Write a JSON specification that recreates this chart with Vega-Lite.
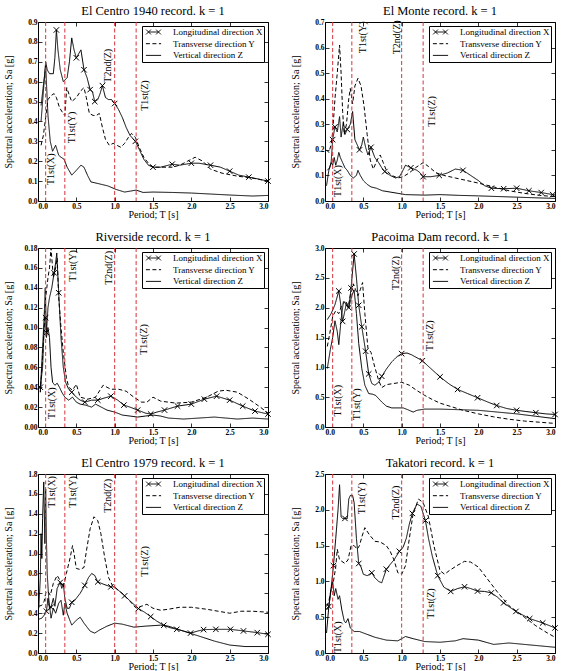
{
  "$schema": "https://vega.github.io/schema/vega-lite/v6.json",
  "background": "white",
  "padding": {"left": 2, "top": 4, "right": 8, "bottom": 2},
  "config": {
    "font": "Liberation Serif",
    "view": {"stroke": "black", "strokeWidth": 1},
    "title": {"font": "Liberation Serif", "fontSize": 12.5, "fontWeight": "normal", "color": "black", "offset": 1},
    "axis": {
      "grid": false, "domain": false, "tickColor": "black", "tickSize": -4, "tickWidth": 0.8,
      "labelFont": "Liberation Serif", "labelFontSize": 7.5, "labelFontWeight": "bold", "labelColor": "black", "labelPadding": 5,
      "titleFont": "Liberation Serif", "titleFontSize": 10, "titleFontWeight": "normal", "titleColor": "black", "titlePadding": 2
    },
    "axisBottom": {"titleY": 13.5, "titleBaseline": "middle"},
    "axisLeft": {"titleX": -30, "titleBaseline": "middle"},
    "legend": {
      "orient": "top-right", "offset": 4, "strokeColor": "black", "fillColor": "white", "padding": 1.5, "cornerRadius": 0,
      "labelFont": "Liberation Serif", "labelFontSize": 9, "labelColor": "black", "labelOffset": 15,
      "symbolSize": 64, "symbolOffset": 5.5, "symbolStrokeColor": "black", "symbolStrokeWidth": 1, "rowPadding": 1.7
    }
  },
  "datasets": {
    "periods": [
      {"name": "T1st(X)", "T": 0.1},
      {"name": "T1st(Y)", "T": 0.35},
      {"name": "T2nd(Z)", "T": 1.0},
      {"name": "T1st(Z)", "T": 1.28}
    ],
    "labels": [
      {"rec": "EC40", "lab": "T1st(X)", "tx": 0.17, "ty": 0.16},
      {"rec": "EC40", "lab": "T1st(Y)", "tx": 0.44, "ty": 0.37},
      {"rec": "EC40", "lab": "T2nd(Z)", "tx": 0.91, "ty": 0.68},
      {"rec": "EC40", "lab": "T1st(Z)", "tx": 1.39, "ty": 0.53},
      {"rec": "EM", "lab": "T1st(X)", "tx": 0.17, "ty": 0.078},
      {"rec": "EM", "lab": "T1st(Y)", "tx": 0.49, "ty": 0.64},
      {"rec": "EM", "lab": "T2nd(Z)", "tx": 0.94, "ty": 0.64},
      {"rec": "EM", "lab": "T1st(Z)", "tx": 1.39, "ty": 0.35},
      {"rec": "RS", "lab": "T1st(X)", "tx": 0.18, "ty": 0.024},
      {"rec": "RS", "lab": "T1st(Y)", "tx": 0.45, "ty": 0.162},
      {"rec": "RS", "lab": "T2nd(Z)", "tx": 0.92, "ty": 0.16},
      {"rec": "RS", "lab": "T1st(Z)", "tx": 1.38, "ty": 0.088},
      {"rec": "PD", "lab": "T1st(X)", "tx": 0.17, "ty": 0.44},
      {"rec": "PD", "lab": "T1st(Y)", "tx": 0.42, "ty": 0.38},
      {"rec": "PD", "lab": "T2nd(Z)", "tx": 0.93, "ty": 2.58},
      {"rec": "PD", "lab": "T1st(Z)", "tx": 1.37, "ty": 1.53},
      {"rec": "EC79", "lab": "T1st(X)", "tx": 0.18, "ty": 1.62},
      {"rec": "EC79", "lab": "T1st(Y)", "tx": 0.45, "ty": 1.62},
      {"rec": "EC79", "lab": "T2nd(Z)", "tx": 0.91, "ty": 1.58},
      {"rec": "EC79", "lab": "T1st(Z)", "tx": 1.39, "ty": 0.92},
      {"rec": "TK", "lab": "T1st(X)", "tx": 0.17, "ty": 0.22},
      {"rec": "TK", "lab": "T1st(Y)", "tx": 0.48, "ty": 2.16},
      {"rec": "TK", "lab": "T2nd(Z)", "tx": 0.93, "ty": 2.1},
      {"rec": "TK", "lab": "T1st(Z)", "tx": 1.38, "ty": 0.69}
    ],
    "spectra": [
      {"rec":"EC40","dir":"X","T":0.04,"Sa":0.40},{"rec":"EC40","dir":"X","T":0.07,"Sa":0.55},{"rec":"EC40","dir":"X","T":0.10,"Sa":0.70},{"rec":"EC40","dir":"X","T":0.12,"Sa":0.66},{"rec":"EC40","dir":"X","T":0.15,"Sa":0.64},{"rec":"EC40","dir":"X","T":0.20,"Sa":0.64},{"rec":"EC40","dir":"X","T":0.22,"Sa":0.72},{"rec":"EC40","dir":"X","T":0.24,"Sa":0.86,"mk":1},{"rec":"EC40","dir":"X","T":0.26,"Sa":0.76},{"rec":"EC40","dir":"X","T":0.29,"Sa":0.66},{"rec":"EC40","dir":"X","T":0.33,"Sa":0.60},{"rec":"EC40","dir":"X","T":0.38,"Sa":0.62},{"rec":"EC40","dir":"X","T":0.41,"Sa":0.70},{"rec":"EC40","dir":"X","T":0.44,"Sa":0.82},{"rec":"EC40","dir":"X","T":0.47,"Sa":0.76},{"rec":"EC40","dir":"X","T":0.50,"Sa":0.72,"mk":1},{"rec":"EC40","dir":"X","T":0.53,"Sa":0.74},{"rec":"EC40","dir":"X","T":0.56,"Sa":0.76},{"rec":"EC40","dir":"X","T":0.60,"Sa":0.66,"mk":1},{"rec":"EC40","dir":"X","T":0.64,"Sa":0.62},{"rec":"EC40","dir":"X","T":0.68,"Sa":0.56,"mk":1},{"rec":"EC40","dir":"X","T":0.71,"Sa":0.55},{"rec":"EC40","dir":"X","T":0.74,"Sa":0.50,"mk":1},{"rec":"EC40","dir":"X","T":0.78,"Sa":0.51},{"rec":"EC40","dir":"X","T":0.81,"Sa":0.54},{"rec":"EC40","dir":"X","T":0.84,"Sa":0.58,"mk":1},{"rec":"EC40","dir":"X","T":0.88,"Sa":0.52},{"rec":"EC40","dir":"X","T":0.92,"Sa":0.51},{"rec":"EC40","dir":"X","T":0.96,"Sa":0.51},{"rec":"EC40","dir":"X","T":1.00,"Sa":0.49,"mk":1},{"rec":"EC40","dir":"X","T":1.05,"Sa":0.46},{"rec":"EC40","dir":"X","T":1.10,"Sa":0.42},{"rec":"EC40","dir":"X","T":1.15,"Sa":0.37},{"rec":"EC40","dir":"X","T":1.20,"Sa":0.33},{"rec":"EC40","dir":"X","T":1.27,"Sa":0.30,"mk":1},{"rec":"EC40","dir":"X","T":1.32,"Sa":0.26},{"rec":"EC40","dir":"X","T":1.38,"Sa":0.21},{"rec":"EC40","dir":"X","T":1.44,"Sa":0.18},{"rec":"EC40","dir":"X","T":1.50,"Sa":0.17,"mk":1},{"rec":"EC40","dir":"X","T":1.60,"Sa":0.17},{"rec":"EC40","dir":"X","T":1.75,"Sa":0.185,"mk":1},{"rec":"EC40","dir":"X","T":1.85,"Sa":0.18},{"rec":"EC40","dir":"X","T":2.00,"Sa":0.19,"mk":1},{"rec":"EC40","dir":"X","T":2.10,"Sa":0.19},{"rec":"EC40","dir":"X","T":2.25,"Sa":0.18,"mk":1},{"rec":"EC40","dir":"X","T":2.38,"Sa":0.17},{"rec":"EC40","dir":"X","T":2.50,"Sa":0.15,"mk":1},{"rec":"EC40","dir":"X","T":2.62,"Sa":0.13},{"rec":"EC40","dir":"X","T":2.75,"Sa":0.12,"mk":1},{"rec":"EC40","dir":"X","T":2.88,"Sa":0.11},{"rec":"EC40","dir":"X","T":3.00,"Sa":0.10,"mk":1},
      {"rec":"EC40","dir":"Y","T":0.04,"Sa":0.28},{"rec":"EC40","dir":"Y","T":0.07,"Sa":0.33},{"rec":"EC40","dir":"Y","T":0.10,"Sa":0.42},{"rec":"EC40","dir":"Y","T":0.13,"Sa":0.51},{"rec":"EC40","dir":"Y","T":0.17,"Sa":0.53},{"rec":"EC40","dir":"Y","T":0.21,"Sa":0.54},{"rec":"EC40","dir":"Y","T":0.24,"Sa":0.52},{"rec":"EC40","dir":"Y","T":0.28,"Sa":0.47},{"rec":"EC40","dir":"Y","T":0.32,"Sa":0.445},{"rec":"EC40","dir":"Y","T":0.35,"Sa":0.43},{"rec":"EC40","dir":"Y","T":0.375,"Sa":0.57},{"rec":"EC40","dir":"Y","T":0.41,"Sa":0.53},{"rec":"EC40","dir":"Y","T":0.44,"Sa":0.50},{"rec":"EC40","dir":"Y","T":0.50,"Sa":0.52},{"rec":"EC40","dir":"Y","T":0.56,"Sa":0.555},{"rec":"EC40","dir":"Y","T":0.60,"Sa":0.57},{"rec":"EC40","dir":"Y","T":0.63,"Sa":0.52},{"rec":"EC40","dir":"Y","T":0.67,"Sa":0.44},{"rec":"EC40","dir":"Y","T":0.72,"Sa":0.43},{"rec":"EC40","dir":"Y","T":0.76,"Sa":0.43},{"rec":"EC40","dir":"Y","T":0.80,"Sa":0.44},{"rec":"EC40","dir":"Y","T":0.84,"Sa":0.37},{"rec":"EC40","dir":"Y","T":0.88,"Sa":0.31},{"rec":"EC40","dir":"Y","T":0.93,"Sa":0.28},{"rec":"EC40","dir":"Y","T":0.98,"Sa":0.29},{"rec":"EC40","dir":"Y","T":1.03,"Sa":0.28},{"rec":"EC40","dir":"Y","T":1.08,"Sa":0.27},{"rec":"EC40","dir":"Y","T":1.13,"Sa":0.29},{"rec":"EC40","dir":"Y","T":1.18,"Sa":0.32},{"rec":"EC40","dir":"Y","T":1.22,"Sa":0.34},{"rec":"EC40","dir":"Y","T":1.27,"Sa":0.32},{"rec":"EC40","dir":"Y","T":1.32,"Sa":0.27},{"rec":"EC40","dir":"Y","T":1.38,"Sa":0.22},{"rec":"EC40","dir":"Y","T":1.45,"Sa":0.185},{"rec":"EC40","dir":"Y","T":1.50,"Sa":0.17},{"rec":"EC40","dir":"Y","T":1.60,"Sa":0.17},{"rec":"EC40","dir":"Y","T":1.75,"Sa":0.17},{"rec":"EC40","dir":"Y","T":1.85,"Sa":0.18},{"rec":"EC40","dir":"Y","T":1.95,"Sa":0.20},{"rec":"EC40","dir":"Y","T":2.05,"Sa":0.22},{"rec":"EC40","dir":"Y","T":2.15,"Sa":0.20},{"rec":"EC40","dir":"Y","T":2.25,"Sa":0.16},{"rec":"EC40","dir":"Y","T":2.40,"Sa":0.14},{"rec":"EC40","dir":"Y","T":2.60,"Sa":0.125},{"rec":"EC40","dir":"Y","T":2.80,"Sa":0.115},{"rec":"EC40","dir":"Y","T":3.00,"Sa":0.10},
      {"rec":"EC40","dir":"Z","T":0.04,"Sa":0.48},{"rec":"EC40","dir":"Z","T":0.07,"Sa":0.58},{"rec":"EC40","dir":"Z","T":0.10,"Sa":0.68},{"rec":"EC40","dir":"Z","T":0.13,"Sa":0.43},{"rec":"EC40","dir":"Z","T":0.16,"Sa":0.30},{"rec":"EC40","dir":"Z","T":0.19,"Sa":0.25},{"rec":"EC40","dir":"Z","T":0.23,"Sa":0.28},{"rec":"EC40","dir":"Z","T":0.27,"Sa":0.23},{"rec":"EC40","dir":"Z","T":0.30,"Sa":0.22},{"rec":"EC40","dir":"Z","T":0.34,"Sa":0.21},{"rec":"EC40","dir":"Z","T":0.38,"Sa":0.17},{"rec":"EC40","dir":"Z","T":0.44,"Sa":0.13},{"rec":"EC40","dir":"Z","T":0.49,"Sa":0.15},{"rec":"EC40","dir":"Z","T":0.56,"Sa":0.18},{"rec":"EC40","dir":"Z","T":0.60,"Sa":0.17},{"rec":"EC40","dir":"Z","T":0.645,"Sa":0.13},{"rec":"EC40","dir":"Z","T":0.69,"Sa":0.096},{"rec":"EC40","dir":"Z","T":0.78,"Sa":0.088},{"rec":"EC40","dir":"Z","T":0.91,"Sa":0.076},{"rec":"EC40","dir":"Z","T":1.02,"Sa":0.058},{"rec":"EC40","dir":"Z","T":1.13,"Sa":0.045},{"rec":"EC40","dir":"Z","T":1.21,"Sa":0.05},{"rec":"EC40","dir":"Z","T":1.28,"Sa":0.055},{"rec":"EC40","dir":"Z","T":1.37,"Sa":0.043},{"rec":"EC40","dir":"Z","T":1.50,"Sa":0.045},{"rec":"EC40","dir":"Z","T":1.75,"Sa":0.043},{"rec":"EC40","dir":"Z","T":2.00,"Sa":0.04},{"rec":"EC40","dir":"Z","T":2.25,"Sa":0.035},{"rec":"EC40","dir":"Z","T":2.50,"Sa":0.03},{"rec":"EC40","dir":"Z","T":2.80,"Sa":0.025},{"rec":"EC40","dir":"Z","T":3.00,"Sa":0.028},

      {"rec":"EM","dir":"X","T":0.03,"Sa":0.12},{"rec":"EM","dir":"X","T":0.06,"Sa":0.13},{"rec":"EM","dir":"X","T":0.08,"Sa":0.15},{"rec":"EM","dir":"X","T":0.10,"Sa":0.24,"mk":1},{"rec":"EM","dir":"X","T":0.13,"Sa":0.29,"mk":1},{"rec":"EM","dir":"X","T":0.16,"Sa":0.27},{"rec":"EM","dir":"X","T":0.19,"Sa":0.33},{"rec":"EM","dir":"X","T":0.21,"Sa":0.25},{"rec":"EM","dir":"X","T":0.24,"Sa":0.31},{"rec":"EM","dir":"X","T":0.26,"Sa":0.26},{"rec":"EM","dir":"X","T":0.29,"Sa":0.28,"mk":1},{"rec":"EM","dir":"X","T":0.33,"Sa":0.30},{"rec":"EM","dir":"X","T":0.36,"Sa":0.35},{"rec":"EM","dir":"X","T":0.39,"Sa":0.24},{"rec":"EM","dir":"X","T":0.42,"Sa":0.22},{"rec":"EM","dir":"X","T":0.45,"Sa":0.20,"mk":1},{"rec":"EM","dir":"X","T":0.48,"Sa":0.22},{"rec":"EM","dir":"X","T":0.50,"Sa":0.25},{"rec":"EM","dir":"X","T":0.53,"Sa":0.21},{"rec":"EM","dir":"X","T":0.56,"Sa":0.18},{"rec":"EM","dir":"X","T":0.60,"Sa":0.21,"mk":1},{"rec":"EM","dir":"X","T":0.65,"Sa":0.17},{"rec":"EM","dir":"X","T":0.70,"Sa":0.15},{"rec":"EM","dir":"X","T":0.74,"Sa":0.13},{"rec":"EM","dir":"X","T":0.78,"Sa":0.115,"mk":1},{"rec":"EM","dir":"X","T":0.85,"Sa":0.10},{"rec":"EM","dir":"X","T":0.92,"Sa":0.09},{"rec":"EM","dir":"X","T":0.97,"Sa":0.095},{"rec":"EM","dir":"X","T":1.00,"Sa":0.11},{"rec":"EM","dir":"X","T":1.05,"Sa":0.14},{"rec":"EM","dir":"X","T":1.12,"Sa":0.13,"mk":1},{"rec":"EM","dir":"X","T":1.20,"Sa":0.12},{"rec":"EM","dir":"X","T":1.24,"Sa":0.11},{"rec":"EM","dir":"X","T":1.28,"Sa":0.095,"mk":1},{"rec":"EM","dir":"X","T":1.38,"Sa":0.095},{"rec":"EM","dir":"X","T":1.49,"Sa":0.10,"mk":1},{"rec":"EM","dir":"X","T":1.60,"Sa":0.11},{"rec":"EM","dir":"X","T":1.70,"Sa":0.125},{"rec":"EM","dir":"X","T":1.80,"Sa":0.12,"mk":1},{"rec":"EM","dir":"X","T":1.90,"Sa":0.10},{"rec":"EM","dir":"X","T":2.00,"Sa":0.08},{"rec":"EM","dir":"X","T":2.08,"Sa":0.06},{"rec":"EM","dir":"X","T":2.17,"Sa":0.05,"mk":1},{"rec":"EM","dir":"X","T":2.33,"Sa":0.048,"mk":1},{"rec":"EM","dir":"X","T":2.50,"Sa":0.05,"mk":1},{"rec":"EM","dir":"X","T":2.66,"Sa":0.04,"mk":1},{"rec":"EM","dir":"X","T":2.82,"Sa":0.033,"mk":1},{"rec":"EM","dir":"X","T":2.97,"Sa":0.025,"mk":1},{"rec":"EM","dir":"X","T":3.00,"Sa":0.024},
      {"rec":"EM","dir":"Y","T":0.02,"Sa":0.20},{"rec":"EM","dir":"Y","T":0.05,"Sa":0.19},{"rec":"EM","dir":"Y","T":0.08,"Sa":0.22},{"rec":"EM","dir":"Y","T":0.10,"Sa":0.27},{"rec":"EM","dir":"Y","T":0.13,"Sa":0.40},{"rec":"EM","dir":"Y","T":0.16,"Sa":0.50},{"rec":"EM","dir":"Y","T":0.19,"Sa":0.61},{"rec":"EM","dir":"Y","T":0.21,"Sa":0.50},{"rec":"EM","dir":"Y","T":0.23,"Sa":0.35},{"rec":"EM","dir":"Y","T":0.25,"Sa":0.26},{"rec":"EM","dir":"Y","T":0.28,"Sa":0.30},{"rec":"EM","dir":"Y","T":0.31,"Sa":0.40},{"rec":"EM","dir":"Y","T":0.33,"Sa":0.44},{"rec":"EM","dir":"Y","T":0.36,"Sa":0.38},{"rec":"EM","dir":"Y","T":0.39,"Sa":0.45},{"rec":"EM","dir":"Y","T":0.43,"Sa":0.48},{"rec":"EM","dir":"Y","T":0.47,"Sa":0.45},{"rec":"EM","dir":"Y","T":0.51,"Sa":0.37},{"rec":"EM","dir":"Y","T":0.55,"Sa":0.26},{"rec":"EM","dir":"Y","T":0.59,"Sa":0.16},{"rec":"EM","dir":"Y","T":0.63,"Sa":0.125},{"rec":"EM","dir":"Y","T":0.68,"Sa":0.16},{"rec":"EM","dir":"Y","T":0.72,"Sa":0.18},{"rec":"EM","dir":"Y","T":0.76,"Sa":0.15},{"rec":"EM","dir":"Y","T":0.80,"Sa":0.12},{"rec":"EM","dir":"Y","T":0.87,"Sa":0.10},{"rec":"EM","dir":"Y","T":0.95,"Sa":0.09},{"rec":"EM","dir":"Y","T":1.02,"Sa":0.095},{"rec":"EM","dir":"Y","T":1.10,"Sa":0.11},{"rec":"EM","dir":"Y","T":1.18,"Sa":0.13},{"rec":"EM","dir":"Y","T":1.28,"Sa":0.15},{"rec":"EM","dir":"Y","T":1.35,"Sa":0.135},{"rec":"EM","dir":"Y","T":1.45,"Sa":0.11},{"rec":"EM","dir":"Y","T":1.55,"Sa":0.10},{"rec":"EM","dir":"Y","T":1.70,"Sa":0.09},{"rec":"EM","dir":"Y","T":1.85,"Sa":0.08},{"rec":"EM","dir":"Y","T":2.00,"Sa":0.07},{"rec":"EM","dir":"Y","T":2.20,"Sa":0.055},{"rec":"EM","dir":"Y","T":2.40,"Sa":0.04},{"rec":"EM","dir":"Y","T":2.60,"Sa":0.03},{"rec":"EM","dir":"Y","T":2.80,"Sa":0.022},{"rec":"EM","dir":"Y","T":3.00,"Sa":0.017},
      {"rec":"EM","dir":"Z","T":0.02,"Sa":0.06},{"rec":"EM","dir":"Z","T":0.05,"Sa":0.12},{"rec":"EM","dir":"Z","T":0.08,"Sa":0.15},{"rec":"EM","dir":"Z","T":0.10,"Sa":0.14},{"rec":"EM","dir":"Z","T":0.12,"Sa":0.17},{"rec":"EM","dir":"Z","T":0.14,"Sa":0.14},{"rec":"EM","dir":"Z","T":0.16,"Sa":0.16},{"rec":"EM","dir":"Z","T":0.18,"Sa":0.19},{"rec":"EM","dir":"Z","T":0.20,"Sa":0.17},{"rec":"EM","dir":"Z","T":0.23,"Sa":0.15},{"rec":"EM","dir":"Z","T":0.26,"Sa":0.13},{"rec":"EM","dir":"Z","T":0.29,"Sa":0.12},{"rec":"EM","dir":"Z","T":0.33,"Sa":0.10},{"rec":"EM","dir":"Z","T":0.37,"Sa":0.09},{"rec":"EM","dir":"Z","T":0.41,"Sa":0.10},{"rec":"EM","dir":"Z","T":0.43,"Sa":0.12},{"rec":"EM","dir":"Z","T":0.46,"Sa":0.10},{"rec":"EM","dir":"Z","T":0.50,"Sa":0.08},{"rec":"EM","dir":"Z","T":0.55,"Sa":0.065},{"rec":"EM","dir":"Z","T":0.60,"Sa":0.055},{"rec":"EM","dir":"Z","T":0.67,"Sa":0.05},{"rec":"EM","dir":"Z","T":0.75,"Sa":0.04},{"rec":"EM","dir":"Z","T":0.85,"Sa":0.035},{"rec":"EM","dir":"Z","T":0.95,"Sa":0.03},{"rec":"EM","dir":"Z","T":1.05,"Sa":0.025},{"rec":"EM","dir":"Z","T":1.30,"Sa":0.023},{"rec":"EM","dir":"Z","T":1.50,"Sa":0.025},{"rec":"EM","dir":"Z","T":1.75,"Sa":0.022},{"rec":"EM","dir":"Z","T":2.00,"Sa":0.02},{"rec":"EM","dir":"Z","T":2.50,"Sa":0.015},{"rec":"EM","dir":"Z","T":3.00,"Sa":0.01},

      {"rec":"RS","dir":"X","T":0.03,"Sa":0.04,"mk":1},{"rec":"RS","dir":"X","T":0.06,"Sa":0.06},{"rec":"RS","dir":"X","T":0.08,"Sa":0.10},{"rec":"RS","dir":"X","T":0.10,"Sa":0.11,"mk":1},{"rec":"RS","dir":"X","T":0.11,"Sa":0.095,"mk":1},{"rec":"RS","dir":"X","T":0.13,"Sa":0.12},{"rec":"RS","dir":"X","T":0.15,"Sa":0.13},{"rec":"RS","dir":"X","T":0.18,"Sa":0.14},{"rec":"RS","dir":"X","T":0.21,"Sa":0.155,"mk":1},{"rec":"RS","dir":"X","T":0.23,"Sa":0.165},{"rec":"RS","dir":"X","T":0.245,"Sa":0.175},{"rec":"RS","dir":"X","T":0.27,"Sa":0.135,"mk":1},{"rec":"RS","dir":"X","T":0.30,"Sa":0.09},{"rec":"RS","dir":"X","T":0.33,"Sa":0.06},{"rec":"RS","dir":"X","T":0.36,"Sa":0.045},{"rec":"RS","dir":"X","T":0.40,"Sa":0.038},{"rec":"RS","dir":"X","T":0.44,"Sa":0.035,"mk":1},{"rec":"RS","dir":"X","T":0.50,"Sa":0.03},{"rec":"RS","dir":"X","T":0.55,"Sa":0.027},{"rec":"RS","dir":"X","T":0.61,"Sa":0.025,"mk":1},{"rec":"RS","dir":"X","T":0.70,"Sa":0.027},{"rec":"RS","dir":"X","T":0.78,"Sa":0.027,"mk":1},{"rec":"RS","dir":"X","T":0.86,"Sa":0.029},{"rec":"RS","dir":"X","T":0.95,"Sa":0.031,"mk":1},{"rec":"RS","dir":"X","T":1.04,"Sa":0.027},{"rec":"RS","dir":"X","T":1.12,"Sa":0.022,"mk":1},{"rec":"RS","dir":"X","T":1.20,"Sa":0.02},{"rec":"RS","dir":"X","T":1.30,"Sa":0.017,"mk":1},{"rec":"RS","dir":"X","T":1.40,"Sa":0.014},{"rec":"RS","dir":"X","T":1.47,"Sa":0.013,"mk":1},{"rec":"RS","dir":"X","T":1.55,"Sa":0.015},{"rec":"RS","dir":"X","T":1.65,"Sa":0.017,"mk":1},{"rec":"RS","dir":"X","T":1.82,"Sa":0.021,"mk":1},{"rec":"RS","dir":"X","T":2.00,"Sa":0.023,"mk":1},{"rec":"RS","dir":"X","T":2.17,"Sa":0.028,"mk":1},{"rec":"RS","dir":"X","T":2.33,"Sa":0.031,"mk":1},{"rec":"RS","dir":"X","T":2.50,"Sa":0.027,"mk":1},{"rec":"RS","dir":"X","T":2.67,"Sa":0.021,"mk":1},{"rec":"RS","dir":"X","T":2.83,"Sa":0.016,"mk":1},{"rec":"RS","dir":"X","T":3.00,"Sa":0.013,"mk":1},
      {"rec":"RS","dir":"Y","T":0.03,"Sa":0.035},{"rec":"RS","dir":"Y","T":0.06,"Sa":0.07},{"rec":"RS","dir":"Y","T":0.08,"Sa":0.10},{"rec":"RS","dir":"Y","T":0.10,"Sa":0.13},{"rec":"RS","dir":"Y","T":0.13,"Sa":0.15},{"rec":"RS","dir":"Y","T":0.15,"Sa":0.16},{"rec":"RS","dir":"Y","T":0.17,"Sa":0.18},{"rec":"RS","dir":"Y","T":0.20,"Sa":0.15},{"rec":"RS","dir":"Y","T":0.23,"Sa":0.16},{"rec":"RS","dir":"Y","T":0.25,"Sa":0.17},{"rec":"RS","dir":"Y","T":0.27,"Sa":0.13},{"rec":"RS","dir":"Y","T":0.30,"Sa":0.10},{"rec":"RS","dir":"Y","T":0.33,"Sa":0.075},{"rec":"RS","dir":"Y","T":0.37,"Sa":0.05},{"rec":"RS","dir":"Y","T":0.40,"Sa":0.04},{"rec":"RS","dir":"Y","T":0.45,"Sa":0.037},{"rec":"RS","dir":"Y","T":0.50,"Sa":0.043},{"rec":"RS","dir":"Y","T":0.55,"Sa":0.03},{"rec":"RS","dir":"Y","T":0.65,"Sa":0.028},{"rec":"RS","dir":"Y","T":0.75,"Sa":0.03},{"rec":"RS","dir":"Y","T":0.85,"Sa":0.042},{"rec":"RS","dir":"Y","T":0.95,"Sa":0.038},{"rec":"RS","dir":"Y","T":1.05,"Sa":0.038},{"rec":"RS","dir":"Y","T":1.15,"Sa":0.036},{"rec":"RS","dir":"Y","T":1.25,"Sa":0.03},{"rec":"RS","dir":"Y","T":1.35,"Sa":0.025},{"rec":"RS","dir":"Y","T":1.42,"Sa":0.025},{"rec":"RS","dir":"Y","T":1.50,"Sa":0.03},{"rec":"RS","dir":"Y","T":1.60,"Sa":0.026},{"rec":"RS","dir":"Y","T":1.80,"Sa":0.024},{"rec":"RS","dir":"Y","T":2.00,"Sa":0.025},{"rec":"RS","dir":"Y","T":2.20,"Sa":0.03},{"rec":"RS","dir":"Y","T":2.35,"Sa":0.036},{"rec":"RS","dir":"Y","T":2.45,"Sa":0.037},{"rec":"RS","dir":"Y","T":2.60,"Sa":0.035},{"rec":"RS","dir":"Y","T":2.75,"Sa":0.028},{"rec":"RS","dir":"Y","T":2.90,"Sa":0.02},{"rec":"RS","dir":"Y","T":3.00,"Sa":0.014},
      {"rec":"RS","dir":"Z","T":0.03,"Sa":0.035},{"rec":"RS","dir":"Z","T":0.06,"Sa":0.08},{"rec":"RS","dir":"Z","T":0.08,"Sa":0.11},{"rec":"RS","dir":"Z","T":0.095,"Sa":0.14},{"rec":"RS","dir":"Z","T":0.11,"Sa":0.09},{"rec":"RS","dir":"Z","T":0.13,"Sa":0.10},{"rec":"RS","dir":"Z","T":0.15,"Sa":0.09},{"rec":"RS","dir":"Z","T":0.17,"Sa":0.06},{"rec":"RS","dir":"Z","T":0.19,"Sa":0.045},{"rec":"RS","dir":"Z","T":0.22,"Sa":0.042},{"rec":"RS","dir":"Z","T":0.25,"Sa":0.044},{"rec":"RS","dir":"Z","T":0.28,"Sa":0.04},{"rec":"RS","dir":"Z","T":0.31,"Sa":0.035},{"rec":"RS","dir":"Z","T":0.35,"Sa":0.03},{"rec":"RS","dir":"Z","T":0.40,"Sa":0.027},{"rec":"RS","dir":"Z","T":0.45,"Sa":0.03},{"rec":"RS","dir":"Z","T":0.50,"Sa":0.025},{"rec":"RS","dir":"Z","T":0.55,"Sa":0.023},{"rec":"RS","dir":"Z","T":0.62,"Sa":0.022},{"rec":"RS","dir":"Z","T":0.70,"Sa":0.02},{"rec":"RS","dir":"Z","T":0.75,"Sa":0.023},{"rec":"RS","dir":"Z","T":0.80,"Sa":0.021},{"rec":"RS","dir":"Z","T":0.90,"Sa":0.017},{"rec":"RS","dir":"Z","T":1.00,"Sa":0.015},{"rec":"RS","dir":"Z","T":1.10,"Sa":0.012},{"rec":"RS","dir":"Z","T":1.20,"Sa":0.011},{"rec":"RS","dir":"Z","T":1.30,"Sa":0.01},{"rec":"RS","dir":"Z","T":1.40,"Sa":0.011},{"rec":"RS","dir":"Z","T":1.50,"Sa":0.012},{"rec":"RS","dir":"Z","T":1.60,"Sa":0.011},{"rec":"RS","dir":"Z","T":1.70,"Sa":0.009},{"rec":"RS","dir":"Z","T":1.90,"Sa":0.008},{"rec":"RS","dir":"Z","T":2.10,"Sa":0.009},{"rec":"RS","dir":"Z","T":2.30,"Sa":0.01},{"rec":"RS","dir":"Z","T":2.45,"Sa":0.009},{"rec":"RS","dir":"Z","T":2.60,"Sa":0.008},{"rec":"RS","dir":"Z","T":2.80,"Sa":0.009},{"rec":"RS","dir":"Z","T":3.00,"Sa":0.008},

      {"rec":"PD","dir":"X","T":0.03,"Sa":1.80},{"rec":"PD","dir":"X","T":0.08,"Sa":1.90},{"rec":"PD","dir":"X","T":0.13,"Sa":2.05},{"rec":"PD","dir":"X","T":0.18,"Sa":2.28,"mk":1},{"rec":"PD","dir":"X","T":0.20,"Sa":2.10},{"rec":"PD","dir":"X","T":0.23,"Sa":1.77,"mk":1},{"rec":"PD","dir":"X","T":0.26,"Sa":1.95},{"rec":"PD","dir":"X","T":0.28,"Sa":2.09},{"rec":"PD","dir":"X","T":0.31,"Sa":2.00,"mk":1},{"rec":"PD","dir":"X","T":0.34,"Sa":2.33,"mk":1},{"rec":"PD","dir":"X","T":0.38,"Sa":2.90,"mk":1},{"rec":"PD","dir":"X","T":0.41,"Sa":2.50},{"rec":"PD","dir":"X","T":0.44,"Sa":2.04,"mk":1},{"rec":"PD","dir":"X","T":0.48,"Sa":1.68,"mk":1},{"rec":"PD","dir":"X","T":0.53,"Sa":1.27,"mk":1},{"rec":"PD","dir":"X","T":0.57,"Sa":0.89,"mk":1},{"rec":"PD","dir":"X","T":0.61,"Sa":0.73},{"rec":"PD","dir":"X","T":0.65,"Sa":0.70},{"rec":"PD","dir":"X","T":0.70,"Sa":0.75},{"rec":"PD","dir":"X","T":0.74,"Sa":0.85,"mk":1},{"rec":"PD","dir":"X","T":0.80,"Sa":0.97},{"rec":"PD","dir":"X","T":0.87,"Sa":1.09},{"rec":"PD","dir":"X","T":0.94,"Sa":1.18},{"rec":"PD","dir":"X","T":1.00,"Sa":1.23,"mk":1},{"rec":"PD","dir":"X","T":1.07,"Sa":1.24},{"rec":"PD","dir":"X","T":1.13,"Sa":1.21},{"rec":"PD","dir":"X","T":1.20,"Sa":1.16},{"rec":"PD","dir":"X","T":1.27,"Sa":1.11,"mk":1},{"rec":"PD","dir":"X","T":1.38,"Sa":0.98},{"rec":"PD","dir":"X","T":1.50,"Sa":0.84,"mk":1},{"rec":"PD","dir":"X","T":1.62,"Sa":0.72},{"rec":"PD","dir":"X","T":1.73,"Sa":0.63,"mk":1},{"rec":"PD","dir":"X","T":1.86,"Sa":0.56},{"rec":"PD","dir":"X","T":1.99,"Sa":0.49,"mk":1},{"rec":"PD","dir":"X","T":2.12,"Sa":0.42},{"rec":"PD","dir":"X","T":2.24,"Sa":0.36,"mk":1},{"rec":"PD","dir":"X","T":2.37,"Sa":0.31},{"rec":"PD","dir":"X","T":2.50,"Sa":0.28,"mk":1},{"rec":"PD","dir":"X","T":2.62,"Sa":0.26},{"rec":"PD","dir":"X","T":2.75,"Sa":0.24,"mk":1},{"rec":"PD","dir":"X","T":2.88,"Sa":0.22},{"rec":"PD","dir":"X","T":3.00,"Sa":0.21,"mk":1},
      {"rec":"PD","dir":"Y","T":0.03,"Sa":1.35},{"rec":"PD","dir":"Y","T":0.06,"Sa":1.55},{"rec":"PD","dir":"Y","T":0.10,"Sa":1.85},{"rec":"PD","dir":"Y","T":0.14,"Sa":1.95},{"rec":"PD","dir":"Y","T":0.18,"Sa":1.90},{"rec":"PD","dir":"Y","T":0.22,"Sa":2.05},{"rec":"PD","dir":"Y","T":0.26,"Sa":2.10},{"rec":"PD","dir":"Y","T":0.30,"Sa":2.00},{"rec":"PD","dir":"Y","T":0.33,"Sa":2.20},{"rec":"PD","dir":"Y","T":0.37,"Sa":2.40},{"rec":"PD","dir":"Y","T":0.40,"Sa":2.30},{"rec":"PD","dir":"Y","T":0.43,"Sa":2.20},{"rec":"PD","dir":"Y","T":0.46,"Sa":2.30},{"rec":"PD","dir":"Y","T":0.49,"Sa":2.42},{"rec":"PD","dir":"Y","T":0.52,"Sa":1.90},{"rec":"PD","dir":"Y","T":0.56,"Sa":1.32},{"rec":"PD","dir":"Y","T":0.60,"Sa":1.25},{"rec":"PD","dir":"Y","T":0.65,"Sa":1.00},{"rec":"PD","dir":"Y","T":0.70,"Sa":0.78},{"rec":"PD","dir":"Y","T":0.74,"Sa":0.66},{"rec":"PD","dir":"Y","T":0.80,"Sa":0.71},{"rec":"PD","dir":"Y","T":0.90,"Sa":0.73},{"rec":"PD","dir":"Y","T":1.00,"Sa":0.75},{"rec":"PD","dir":"Y","T":1.10,"Sa":0.70},{"rec":"PD","dir":"Y","T":1.20,"Sa":0.61},{"rec":"PD","dir":"Y","T":1.30,"Sa":0.53},{"rec":"PD","dir":"Y","T":1.40,"Sa":0.46},{"rec":"PD","dir":"Y","T":1.50,"Sa":0.40},{"rec":"PD","dir":"Y","T":1.65,"Sa":0.34},{"rec":"PD","dir":"Y","T":1.80,"Sa":0.28},{"rec":"PD","dir":"Y","T":2.00,"Sa":0.22},{"rec":"PD","dir":"Y","T":2.20,"Sa":0.17},{"rec":"PD","dir":"Y","T":2.40,"Sa":0.13},{"rec":"PD","dir":"Y","T":2.60,"Sa":0.10},{"rec":"PD","dir":"Y","T":2.80,"Sa":0.08},{"rec":"PD","dir":"Y","T":3.00,"Sa":0.06},
      {"rec":"PD","dir":"Z","T":0.03,"Sa":0.98},{"rec":"PD","dir":"Z","T":0.07,"Sa":1.30},{"rec":"PD","dir":"Z","T":0.10,"Sa":1.50},{"rec":"PD","dir":"Z","T":0.13,"Sa":1.78},{"rec":"PD","dir":"Z","T":0.16,"Sa":1.60},{"rec":"PD","dir":"Z","T":0.18,"Sa":1.38},{"rec":"PD","dir":"Z","T":0.21,"Sa":1.80},{"rec":"PD","dir":"Z","T":0.24,"Sa":2.10},{"rec":"PD","dir":"Z","T":0.28,"Sa":2.05},{"rec":"PD","dir":"Z","T":0.31,"Sa":2.00},{"rec":"PD","dir":"Z","T":0.35,"Sa":2.20},{"rec":"PD","dir":"Z","T":0.38,"Sa":2.30},{"rec":"PD","dir":"Z","T":0.41,"Sa":1.90},{"rec":"PD","dir":"Z","T":0.44,"Sa":1.40},{"rec":"PD","dir":"Z","T":0.48,"Sa":0.98},{"rec":"PD","dir":"Z","T":0.52,"Sa":0.70},{"rec":"PD","dir":"Z","T":0.57,"Sa":0.56},{"rec":"PD","dir":"Z","T":0.62,"Sa":0.55},{"rec":"PD","dir":"Z","T":0.66,"Sa":0.53},{"rec":"PD","dir":"Z","T":0.74,"Sa":0.42},{"rec":"PD","dir":"Z","T":0.80,"Sa":0.35},{"rec":"PD","dir":"Z","T":0.87,"Sa":0.32},{"rec":"PD","dir":"Z","T":0.95,"Sa":0.32},{"rec":"PD","dir":"Z","T":1.02,"Sa":0.32},{"rec":"PD","dir":"Z","T":1.08,"Sa":0.29},{"rec":"PD","dir":"Z","T":1.15,"Sa":0.25},{"rec":"PD","dir":"Z","T":1.20,"Sa":0.28},{"rec":"PD","dir":"Z","T":1.30,"Sa":0.30},{"rec":"PD","dir":"Z","T":1.50,"Sa":0.30},{"rec":"PD","dir":"Z","T":1.75,"Sa":0.29},{"rec":"PD","dir":"Z","T":2.00,"Sa":0.28},{"rec":"PD","dir":"Z","T":2.25,"Sa":0.25},{"rec":"PD","dir":"Z","T":2.50,"Sa":0.22},{"rec":"PD","dir":"Z","T":2.75,"Sa":0.18},{"rec":"PD","dir":"Z","T":3.00,"Sa":0.14},

      {"rec":"EC79","dir":"X","T":0.01,"Sa":0.34},{"rec":"EC79","dir":"X","T":0.05,"Sa":0.35},{"rec":"EC79","dir":"X","T":0.08,"Sa":0.38},{"rec":"EC79","dir":"X","T":0.11,"Sa":0.42,"mk":1},{"rec":"EC79","dir":"X","T":0.13,"Sa":0.55},{"rec":"EC79","dir":"X","T":0.15,"Sa":0.45},{"rec":"EC79","dir":"X","T":0.17,"Sa":0.46,"mk":1},{"rec":"EC79","dir":"X","T":0.20,"Sa":0.55},{"rec":"EC79","dir":"X","T":0.22,"Sa":0.47},{"rec":"EC79","dir":"X","T":0.25,"Sa":0.65},{"rec":"EC79","dir":"X","T":0.29,"Sa":0.71,"mk":1},{"rec":"EC79","dir":"X","T":0.31,"Sa":0.65},{"rec":"EC79","dir":"X","T":0.33,"Sa":0.70},{"rec":"EC79","dir":"X","T":0.35,"Sa":0.55},{"rec":"EC79","dir":"X","T":0.38,"Sa":0.45},{"rec":"EC79","dir":"X","T":0.41,"Sa":0.45},{"rec":"EC79","dir":"X","T":0.44,"Sa":0.51,"mk":1},{"rec":"EC79","dir":"X","T":0.47,"Sa":0.52},{"rec":"EC79","dir":"X","T":0.50,"Sa":0.55},{"rec":"EC79","dir":"X","T":0.55,"Sa":0.60},{"rec":"EC79","dir":"X","T":0.61,"Sa":0.68,"mk":1},{"rec":"EC79","dir":"X","T":0.66,"Sa":0.76},{"rec":"EC79","dir":"X","T":0.70,"Sa":0.80},{"rec":"EC79","dir":"X","T":0.74,"Sa":0.78},{"rec":"EC79","dir":"X","T":0.78,"Sa":0.715,"mk":1},{"rec":"EC79","dir":"X","T":0.86,"Sa":0.69},{"rec":"EC79","dir":"X","T":0.95,"Sa":0.665,"mk":1},{"rec":"EC79","dir":"X","T":1.00,"Sa":0.665},{"rec":"EC79","dir":"X","T":1.05,"Sa":0.63},{"rec":"EC79","dir":"X","T":1.13,"Sa":0.575,"mk":1},{"rec":"EC79","dir":"X","T":1.22,"Sa":0.51},{"rec":"EC79","dir":"X","T":1.31,"Sa":0.447,"mk":1},{"rec":"EC79","dir":"X","T":1.39,"Sa":0.41},{"rec":"EC79","dir":"X","T":1.47,"Sa":0.366,"mk":1},{"rec":"EC79","dir":"X","T":1.55,"Sa":0.32},{"rec":"EC79","dir":"X","T":1.64,"Sa":0.279,"mk":1},{"rec":"EC79","dir":"X","T":1.72,"Sa":0.255},{"rec":"EC79","dir":"X","T":1.81,"Sa":0.238,"mk":1},{"rec":"EC79","dir":"X","T":1.90,"Sa":0.22},{"rec":"EC79","dir":"X","T":1.99,"Sa":0.20,"mk":1},{"rec":"EC79","dir":"X","T":2.08,"Sa":0.22},{"rec":"EC79","dir":"X","T":2.16,"Sa":0.235,"mk":1},{"rec":"EC79","dir":"X","T":2.32,"Sa":0.238,"mk":1},{"rec":"EC79","dir":"X","T":2.51,"Sa":0.238,"mk":1},{"rec":"EC79","dir":"X","T":2.68,"Sa":0.222,"mk":1},{"rec":"EC79","dir":"X","T":2.86,"Sa":0.205,"mk":1},{"rec":"EC79","dir":"X","T":3.00,"Sa":0.188,"mk":1},
      {"rec":"EC79","dir":"Y","T":0.01,"Sa":0.47},{"rec":"EC79","dir":"Y","T":0.05,"Sa":0.48},{"rec":"EC79","dir":"Y","T":0.08,"Sa":0.52},{"rec":"EC79","dir":"Y","T":0.10,"Sa":0.60},{"rec":"EC79","dir":"Y","T":0.13,"Sa":0.62},{"rec":"EC79","dir":"Y","T":0.16,"Sa":0.58},{"rec":"EC79","dir":"Y","T":0.20,"Sa":0.70},{"rec":"EC79","dir":"Y","T":0.25,"Sa":0.78},{"rec":"EC79","dir":"Y","T":0.28,"Sa":0.74},{"rec":"EC79","dir":"Y","T":0.30,"Sa":0.70},{"rec":"EC79","dir":"Y","T":0.33,"Sa":0.66},{"rec":"EC79","dir":"Y","T":0.37,"Sa":0.80},{"rec":"EC79","dir":"Y","T":0.42,"Sa":0.96},{"rec":"EC79","dir":"Y","T":0.45,"Sa":1.08},{"rec":"EC79","dir":"Y","T":0.47,"Sa":1.00},{"rec":"EC79","dir":"Y","T":0.50,"Sa":0.85},{"rec":"EC79","dir":"Y","T":0.55,"Sa":0.84},{"rec":"EC79","dir":"Y","T":0.60,"Sa":0.86},{"rec":"EC79","dir":"Y","T":0.63,"Sa":1.02},{"rec":"EC79","dir":"Y","T":0.68,"Sa":1.25},{"rec":"EC79","dir":"Y","T":0.73,"Sa":1.37},{"rec":"EC79","dir":"Y","T":0.78,"Sa":1.33},{"rec":"EC79","dir":"Y","T":0.82,"Sa":1.20},{"rec":"EC79","dir":"Y","T":0.87,"Sa":0.96},{"rec":"EC79","dir":"Y","T":0.92,"Sa":0.76},{"rec":"EC79","dir":"Y","T":0.97,"Sa":0.68},{"rec":"EC79","dir":"Y","T":1.03,"Sa":0.64},{"rec":"EC79","dir":"Y","T":1.10,"Sa":0.60},{"rec":"EC79","dir":"Y","T":1.20,"Sa":0.52},{"rec":"EC79","dir":"Y","T":1.28,"Sa":0.45},{"rec":"EC79","dir":"Y","T":1.35,"Sa":0.47},{"rec":"EC79","dir":"Y","T":1.42,"Sa":0.49},{"rec":"EC79","dir":"Y","T":1.50,"Sa":0.45},{"rec":"EC79","dir":"Y","T":1.60,"Sa":0.43},{"rec":"EC79","dir":"Y","T":1.70,"Sa":0.44},{"rec":"EC79","dir":"Y","T":1.85,"Sa":0.46},{"rec":"EC79","dir":"Y","T":2.00,"Sa":0.46},{"rec":"EC79","dir":"Y","T":2.20,"Sa":0.44},{"rec":"EC79","dir":"Y","T":2.35,"Sa":0.42},{"rec":"EC79","dir":"Y","T":2.50,"Sa":0.40},{"rec":"EC79","dir":"Y","T":2.65,"Sa":0.42},{"rec":"EC79","dir":"Y","T":2.80,"Sa":0.42},{"rec":"EC79","dir":"Y","T":3.00,"Sa":0.41},
      {"rec":"EC79","dir":"Z","T":0.01,"Sa":0.45},{"rec":"EC79","dir":"Z","T":0.03,"Sa":0.75},{"rec":"EC79","dir":"Z","T":0.04,"Sa":1.20},{"rec":"EC79","dir":"Z","T":0.05,"Sa":0.95},{"rec":"EC79","dir":"Z","T":0.06,"Sa":1.35},{"rec":"EC79","dir":"Z","T":0.075,"Sa":1.72},{"rec":"EC79","dir":"Z","T":0.09,"Sa":1.10},{"rec":"EC79","dir":"Z","T":0.10,"Sa":1.65},{"rec":"EC79","dir":"Z","T":0.11,"Sa":1.15},{"rec":"EC79","dir":"Z","T":0.12,"Sa":0.80},{"rec":"EC79","dir":"Z","T":0.14,"Sa":0.55},{"rec":"EC79","dir":"Z","T":0.17,"Sa":0.35},{"rec":"EC79","dir":"Z","T":0.20,"Sa":0.45},{"rec":"EC79","dir":"Z","T":0.23,"Sa":0.40},{"rec":"EC79","dir":"Z","T":0.27,"Sa":0.50},{"rec":"EC79","dir":"Z","T":0.30,"Sa":0.53},{"rec":"EC79","dir":"Z","T":0.33,"Sa":0.38},{"rec":"EC79","dir":"Z","T":0.35,"Sa":0.50},{"rec":"EC79","dir":"Z","T":0.38,"Sa":0.40},{"rec":"EC79","dir":"Z","T":0.44,"Sa":0.28},{"rec":"EC79","dir":"Z","T":0.50,"Sa":0.33},{"rec":"EC79","dir":"Z","T":0.55,"Sa":0.36},{"rec":"EC79","dir":"Z","T":0.60,"Sa":0.30},{"rec":"EC79","dir":"Z","T":0.68,"Sa":0.22},{"rec":"EC79","dir":"Z","T":0.74,"Sa":0.20},{"rec":"EC79","dir":"Z","T":0.80,"Sa":0.23},{"rec":"EC79","dir":"Z","T":0.90,"Sa":0.27},{"rec":"EC79","dir":"Z","T":1.00,"Sa":0.30},{"rec":"EC79","dir":"Z","T":1.10,"Sa":0.29},{"rec":"EC79","dir":"Z","T":1.25,"Sa":0.26},{"rec":"EC79","dir":"Z","T":1.40,"Sa":0.27},{"rec":"EC79","dir":"Z","T":1.60,"Sa":0.28},{"rec":"EC79","dir":"Z","T":1.70,"Sa":0.27},{"rec":"EC79","dir":"Z","T":1.90,"Sa":0.22},{"rec":"EC79","dir":"Z","T":2.10,"Sa":0.17},{"rec":"EC79","dir":"Z","T":2.30,"Sa":0.12},{"rec":"EC79","dir":"Z","T":2.50,"Sa":0.08},{"rec":"EC79","dir":"Z","T":2.70,"Sa":0.065},{"rec":"EC79","dir":"Z","T":3.00,"Sa":0.065},

      {"rec":"TK","dir":"X","T":0.02,"Sa":0.60},{"rec":"TK","dir":"X","T":0.05,"Sa":0.65,"mk":1},{"rec":"TK","dir":"X","T":0.08,"Sa":0.90},{"rec":"TK","dir":"X","T":0.11,"Sa":1.22,"mk":1},{"rec":"TK","dir":"X","T":0.14,"Sa":1.60},{"rec":"TK","dir":"X","T":0.17,"Sa":2.00},{"rec":"TK","dir":"X","T":0.19,"Sa":2.35},{"rec":"TK","dir":"X","T":0.21,"Sa":1.90},{"rec":"TK","dir":"X","T":0.23,"Sa":1.88},{"rec":"TK","dir":"X","T":0.26,"Sa":1.88,"mk":1},{"rec":"TK","dir":"X","T":0.29,"Sa":1.875},{"rec":"TK","dir":"X","T":0.31,"Sa":2.15},{"rec":"TK","dir":"X","T":0.33,"Sa":2.20},{"rec":"TK","dir":"X","T":0.36,"Sa":2.20},{"rec":"TK","dir":"X","T":0.38,"Sa":2.10},{"rec":"TK","dir":"X","T":0.41,"Sa":1.60},{"rec":"TK","dir":"X","T":0.44,"Sa":1.25,"mk":1},{"rec":"TK","dir":"X","T":0.47,"Sa":1.20},{"rec":"TK","dir":"X","T":0.50,"Sa":1.10},{"rec":"TK","dir":"X","T":0.55,"Sa":1.08},{"rec":"TK","dir":"X","T":0.61,"Sa":1.12,"mk":1},{"rec":"TK","dir":"X","T":0.65,"Sa":1.05},{"rec":"TK","dir":"X","T":0.70,"Sa":1.00},{"rec":"TK","dir":"X","T":0.74,"Sa":0.98},{"rec":"TK","dir":"X","T":0.80,"Sa":1.17,"mk":1},{"rec":"TK","dir":"X","T":0.86,"Sa":1.25},{"rec":"TK","dir":"X","T":0.90,"Sa":1.30},{"rec":"TK","dir":"X","T":0.97,"Sa":1.42,"mk":1},{"rec":"TK","dir":"X","T":1.02,"Sa":1.48},{"rec":"TK","dir":"X","T":1.06,"Sa":1.60},{"rec":"TK","dir":"X","T":1.10,"Sa":1.80},{"rec":"TK","dir":"X","T":1.14,"Sa":1.95,"mk":1},{"rec":"TK","dir":"X","T":1.20,"Sa":2.08},{"rec":"TK","dir":"X","T":1.25,"Sa":2.05},{"rec":"TK","dir":"X","T":1.31,"Sa":1.85,"mk":1},{"rec":"TK","dir":"X","T":1.35,"Sa":1.60},{"rec":"TK","dir":"X","T":1.40,"Sa":1.35},{"rec":"TK","dir":"X","T":1.47,"Sa":1.08,"mk":1},{"rec":"TK","dir":"X","T":1.55,"Sa":0.92},{"rec":"TK","dir":"X","T":1.64,"Sa":0.86,"mk":1},{"rec":"TK","dir":"X","T":1.73,"Sa":0.90},{"rec":"TK","dir":"X","T":1.82,"Sa":0.925,"mk":1},{"rec":"TK","dir":"X","T":1.90,"Sa":0.90},{"rec":"TK","dir":"X","T":1.99,"Sa":0.865,"mk":1},{"rec":"TK","dir":"X","T":2.08,"Sa":0.86},{"rec":"TK","dir":"X","T":2.17,"Sa":0.84,"mk":1},{"rec":"TK","dir":"X","T":2.25,"Sa":0.78},{"rec":"TK","dir":"X","T":2.33,"Sa":0.70,"mk":1},{"rec":"TK","dir":"X","T":2.49,"Sa":0.58,"mk":1},{"rec":"TK","dir":"X","T":2.67,"Sa":0.48,"mk":1},{"rec":"TK","dir":"X","T":2.84,"Sa":0.42,"mk":1},{"rec":"TK","dir":"X","T":3.00,"Sa":0.35,"mk":1},
      {"rec":"TK","dir":"Y","T":0.02,"Sa":0.65},{"rec":"TK","dir":"Y","T":0.05,"Sa":0.72},{"rec":"TK","dir":"Y","T":0.08,"Sa":0.90},{"rec":"TK","dir":"Y","T":0.11,"Sa":1.00},{"rec":"TK","dir":"Y","T":0.14,"Sa":1.20},{"rec":"TK","dir":"Y","T":0.16,"Sa":1.45},{"rec":"TK","dir":"Y","T":0.19,"Sa":1.30},{"rec":"TK","dir":"Y","T":0.22,"Sa":1.28},{"rec":"TK","dir":"Y","T":0.26,"Sa":1.25},{"rec":"TK","dir":"Y","T":0.30,"Sa":1.30},{"rec":"TK","dir":"Y","T":0.34,"Sa":1.50},{"rec":"TK","dir":"Y","T":0.38,"Sa":1.50},{"rec":"TK","dir":"Y","T":0.42,"Sa":1.45},{"rec":"TK","dir":"Y","T":0.45,"Sa":1.50},{"rec":"TK","dir":"Y","T":0.48,"Sa":1.62},{"rec":"TK","dir":"Y","T":0.52,"Sa":1.75},{"rec":"TK","dir":"Y","T":0.58,"Sa":1.65},{"rec":"TK","dir":"Y","T":0.65,"Sa":1.56},{"rec":"TK","dir":"Y","T":0.72,"Sa":1.55},{"rec":"TK","dir":"Y","T":0.80,"Sa":1.50},{"rec":"TK","dir":"Y","T":0.85,"Sa":1.42},{"rec":"TK","dir":"Y","T":0.90,"Sa":1.30},{"rec":"TK","dir":"Y","T":0.95,"Sa":1.12},{"rec":"TK","dir":"Y","T":1.00,"Sa":1.10},{"rec":"TK","dir":"Y","T":1.05,"Sa":1.22},{"rec":"TK","dir":"Y","T":1.10,"Sa":1.60},{"rec":"TK","dir":"Y","T":1.15,"Sa":1.95},{"rec":"TK","dir":"Y","T":1.22,"Sa":2.15},{"rec":"TK","dir":"Y","T":1.28,"Sa":2.10},{"rec":"TK","dir":"Y","T":1.35,"Sa":1.90},{"rec":"TK","dir":"Y","T":1.42,"Sa":1.50},{"rec":"TK","dir":"Y","T":1.50,"Sa":1.15},{"rec":"TK","dir":"Y","T":1.56,"Sa":1.10},{"rec":"TK","dir":"Y","T":1.62,"Sa":1.15},{"rec":"TK","dir":"Y","T":1.72,"Sa":1.22},{"rec":"TK","dir":"Y","T":1.82,"Sa":1.28},{"rec":"TK","dir":"Y","T":1.90,"Sa":1.27},{"rec":"TK","dir":"Y","T":2.00,"Sa":1.20},{"rec":"TK","dir":"Y","T":2.10,"Sa":1.06},{"rec":"TK","dir":"Y","T":2.25,"Sa":0.85},{"rec":"TK","dir":"Y","T":2.40,"Sa":0.66},{"rec":"TK","dir":"Y","T":2.60,"Sa":0.50},{"rec":"TK","dir":"Y","T":2.75,"Sa":0.38},{"rec":"TK","dir":"Y","T":2.90,"Sa":0.28},{"rec":"TK","dir":"Y","T":3.00,"Sa":0.22},
      {"rec":"TK","dir":"Z","T":0.02,"Sa":0.28},{"rec":"TK","dir":"Z","T":0.05,"Sa":0.65},{"rec":"TK","dir":"Z","T":0.08,"Sa":0.90},{"rec":"TK","dir":"Z","T":0.10,"Sa":1.00},{"rec":"TK","dir":"Z","T":0.12,"Sa":0.80},{"rec":"TK","dir":"Z","T":0.14,"Sa":0.90},{"rec":"TK","dir":"Z","T":0.17,"Sa":0.75},{"rec":"TK","dir":"Z","T":0.19,"Sa":0.80},{"rec":"TK","dir":"Z","T":0.22,"Sa":0.60},{"rec":"TK","dir":"Z","T":0.25,"Sa":0.45},{"rec":"TK","dir":"Z","T":0.27,"Sa":0.42},{"rec":"TK","dir":"Z","T":0.30,"Sa":0.48},{"rec":"TK","dir":"Z","T":0.33,"Sa":0.35},{"rec":"TK","dir":"Z","T":0.38,"Sa":0.30},{"rec":"TK","dir":"Z","T":0.45,"Sa":0.30},{"rec":"TK","dir":"Z","T":0.55,"Sa":0.26},{"rec":"TK","dir":"Z","T":0.65,"Sa":0.22},{"rec":"TK","dir":"Z","T":0.80,"Sa":0.18},{"rec":"TK","dir":"Z","T":0.95,"Sa":0.17},{"rec":"TK","dir":"Z","T":1.05,"Sa":0.23},{"rec":"TK","dir":"Z","T":1.15,"Sa":0.20},{"rec":"TK","dir":"Z","T":1.30,"Sa":0.16},{"rec":"TK","dir":"Z","T":1.50,"Sa":0.15},{"rec":"TK","dir":"Z","T":1.70,"Sa":0.17},{"rec":"TK","dir":"Z","T":1.80,"Sa":0.20},{"rec":"TK","dir":"Z","T":2.00,"Sa":0.18},{"rec":"TK","dir":"Z","T":2.20,"Sa":0.12},{"rec":"TK","dir":"Z","T":2.40,"Sa":0.14},{"rec":"TK","dir":"Z","T":2.60,"Sa":0.12},{"rec":"TK","dir":"Z","T":2.80,"Sa":0.10},{"rec":"TK","dir":"Z","T":3.00,"Sa":0.08}
    ]
  },
  "columns": 2,
  "spacing": {"row": 47, "column": 57},
  "bounds": "flush",
  "resolve": {"scale": {"x": "independent", "y": "independent", "strokeDash": "independent", "strokeWidth": "independent"}, "legend": {"strokeDash": "independent"}},
  "concat": [
    {
      "title": "El Centro 1940 record.  k = 1",
      "width": 230, "height": 179,
      "resolve": {"axis": {"x": "independent", "y": "independent"}},
      "layer": [
        {"data": {"name": "spectra"}, "transform": [{"filter": "datum.rec == 'EC40'"}],
         "mark": {"type": "line", "color": "black", "strokeWidth": 1},
         "encoding": {
           "x": {"field": "T", "type": "quantitative", "scale": {"domain": [0, 3], "nice": false}, "axis": {"values": [0, 0.5, 1, 1.5, 2, 2.5, 3], "format": ".1f", "title": "Period; T [s]"}},
           "y": {"field": "Sa", "type": "quantitative", "scale": {"domain": [0, 0.9], "nice": false}, "axis": {"values": [0, 0.1, 0.2, 0.3, 0.4, 0.5, 0.6, 0.7, 0.8, 0.9], "format": ".1f", "title": "Spectral acceleration; Sa [g]"}},
           "strokeDash": {"field": "dir", "type": "nominal", "scale": {"domain": ["X", "Y", "Z"], "range": [[1, 0], [4, 2.5], [1, 0]]},
             "legend": {"title": null, "labelExpr": "datum.value == 'X' ? 'Longitudinal direction X' : datum.value == 'Y' ? 'Transverse direction Y' : 'Vertical direction Z'",
               "encode": {"symbols": {"update": {"shape": {"signal": "datum.value == 'X' ? 'M-1.25,0L1.25,0M-1.85,-0.6L-0.65,0.6M-1.85,0.6L-0.65,-0.6M0.65,-0.6L1.85,0.6M0.65,0.6L1.85,-0.6' : 'M-1.9,0L1.9,0'"}}}}}}
         }},
        {"data": {"name": "spectra"}, "transform": [{"filter": "datum.rec == 'EC40' && datum.mk == 1"}],
         "mark": {"type": "point", "shape": "M-1,-1L1,1M-1,1L1,-1", "filled": false, "stroke": "black", "strokeWidth": 1, "size": 30, "opacity": 1},
         "encoding": {"x": {"field": "T", "type": "quantitative", "axis": null}, "y": {"field": "Sa", "type": "quantitative", "axis": null}}},
        {"data": {"name": "periods"},
         "mark": {"type": "rule", "color": "#d4343c", "strokeDash": [4, 2.5]},
         "encoding": {"x": {"field": "T", "type": "quantitative", "axis": null},
           "strokeWidth": {"field": "name", "type": "nominal", "scale": {"domain": ["T1st(X)", "T1st(Y)", "T2nd(Z)", "T1st(Z)"], "range": [1, 1, 1.7, 1]}, "legend": null}}},
        {"data": {"name": "labels"}, "transform": [{"filter": "datum.rec == 'EC40'"}],
         "mark": {"type": "text", "angle": 270, "font": "Liberation Serif", "fontSize": 10, "color": "black"},
         "encoding": {"x": {"field": "tx", "type": "quantitative", "axis": {"orient": "top", "labels": false, "title": null, "values": [0, 0.5, 1, 1.5, 2, 2.5, 3]}},
           "y": {"field": "ty", "type": "quantitative", "axis": {"orient": "right", "labels": false, "title": null, "values": [0, 0.1, 0.2, 0.3, 0.4, 0.5, 0.6, 0.7, 0.8, 0.9]}}, "text": {"field": "lab"}}}
      ]
    },
    {
      "title": "El Monte record.  k = 1",
      "width": 230, "height": 179,
      "resolve": {"axis": {"x": "independent", "y": "independent"}},
      "layer": [
        {"data": {"name": "spectra"}, "transform": [{"filter": "datum.rec == 'EM'"}],
         "mark": {"type": "line", "color": "black", "strokeWidth": 1},
         "encoding": {
           "x": {"field": "T", "type": "quantitative", "scale": {"domain": [0, 3], "nice": false}, "axis": {"values": [0, 0.5, 1, 1.5, 2, 2.5, 3], "format": ".1f", "title": "Period; T [s]"}},
           "y": {"field": "Sa", "type": "quantitative", "scale": {"domain": [0, 0.7], "nice": false}, "axis": {"values": [0, 0.1, 0.2, 0.3, 0.4, 0.5, 0.6, 0.7], "format": ".1f", "title": "Spectral acceleration; Sa [g]"}},
           "strokeDash": {"field": "dir", "type": "nominal", "scale": {"domain": ["X", "Y", "Z"], "range": [[1, 0], [4, 2.5], [1, 0]]},
             "legend": {"title": null, "labelExpr": "datum.value == 'X' ? 'Longitudinal direction X' : datum.value == 'Y' ? 'Transverse direction Y' : 'Vertical direction Z'",
               "encode": {"symbols": {"update": {"shape": {"signal": "datum.value == 'X' ? 'M-1.25,0L1.25,0M-1.85,-0.6L-0.65,0.6M-1.85,0.6L-0.65,-0.6M0.65,-0.6L1.85,0.6M0.65,0.6L1.85,-0.6' : 'M-1.9,0L1.9,0'"}}}}}}
         }},
        {"data": {"name": "spectra"}, "transform": [{"filter": "datum.rec == 'EM' && datum.mk == 1"}],
         "mark": {"type": "point", "shape": "M-1,-1L1,1M-1,1L1,-1", "filled": false, "stroke": "black", "strokeWidth": 1, "size": 30, "opacity": 1},
         "encoding": {"x": {"field": "T", "type": "quantitative", "axis": null}, "y": {"field": "Sa", "type": "quantitative", "axis": null}}},
        {"data": {"name": "periods"},
         "mark": {"type": "rule", "color": "#d4343c", "strokeDash": [4, 2.5]},
         "encoding": {"x": {"field": "T", "type": "quantitative", "axis": null},
           "strokeWidth": {"field": "name", "type": "nominal", "scale": {"domain": ["T1st(X)", "T1st(Y)", "T2nd(Z)", "T1st(Z)"], "range": [1, 1, 1.7, 1]}, "legend": null}}},
        {"data": {"name": "labels"}, "transform": [{"filter": "datum.rec == 'EM'"}],
         "mark": {"type": "text", "angle": 270, "font": "Liberation Serif", "fontSize": 10, "color": "black"},
         "encoding": {"x": {"field": "tx", "type": "quantitative", "axis": {"orient": "top", "labels": false, "title": null, "values": [0, 0.5, 1, 1.5, 2, 2.5, 3]}},
           "y": {"field": "ty", "type": "quantitative", "axis": {"orient": "right", "labels": false, "title": null, "values": [0, 0.1, 0.2, 0.3, 0.4, 0.5, 0.6, 0.7]}}, "text": {"field": "lab"}}}
      ]
    },
    {
      "title": "Riverside record.  k = 1",
      "width": 230, "height": 179,
      "resolve": {"axis": {"x": "independent", "y": "independent"}},
      "layer": [
        {"data": {"name": "spectra"}, "transform": [{"filter": "datum.rec == 'RS'"}],
         "mark": {"type": "line", "color": "black", "strokeWidth": 1},
         "encoding": {
           "x": {"field": "T", "type": "quantitative", "scale": {"domain": [0, 3], "nice": false}, "axis": {"values": [0, 0.5, 1, 1.5, 2, 2.5, 3], "format": ".1f", "title": "Period; T [s]"}},
           "y": {"field": "Sa", "type": "quantitative", "scale": {"domain": [0, 0.18], "nice": false}, "axis": {"values": [0, 0.02, 0.04, 0.06, 0.08, 0.1, 0.12, 0.14, 0.16, 0.18], "format": ".2f", "title": "Spectral acceleration; Sa [g]"}},
           "strokeDash": {"field": "dir", "type": "nominal", "scale": {"domain": ["X", "Y", "Z"], "range": [[1, 0], [4, 2.5], [1, 0]]},
             "legend": {"title": null, "labelExpr": "datum.value == 'X' ? 'Longitudinal direction X' : datum.value == 'Y' ? 'Transverse direction Y' : 'Vertical direction Z'",
               "encode": {"symbols": {"update": {"shape": {"signal": "datum.value == 'X' ? 'M-1.25,0L1.25,0M-1.85,-0.6L-0.65,0.6M-1.85,0.6L-0.65,-0.6M0.65,-0.6L1.85,0.6M0.65,0.6L1.85,-0.6' : 'M-1.9,0L1.9,0'"}}}}}}
         }},
        {"data": {"name": "spectra"}, "transform": [{"filter": "datum.rec == 'RS' && datum.mk == 1"}],
         "mark": {"type": "point", "shape": "M-1,-1L1,1M-1,1L1,-1", "filled": false, "stroke": "black", "strokeWidth": 1, "size": 30, "opacity": 1},
         "encoding": {"x": {"field": "T", "type": "quantitative", "axis": null}, "y": {"field": "Sa", "type": "quantitative", "axis": null}}},
        {"data": {"name": "periods"},
         "mark": {"type": "rule", "color": "#d4343c", "strokeDash": [4, 2.5]},
         "encoding": {"x": {"field": "T", "type": "quantitative", "axis": null},
           "strokeWidth": {"field": "name", "type": "nominal", "scale": {"domain": ["T1st(X)", "T1st(Y)", "T2nd(Z)", "T1st(Z)"], "range": [1, 1, 1.7, 1]}, "legend": null}}},
        {"data": {"name": "labels"}, "transform": [{"filter": "datum.rec == 'RS'"}],
         "mark": {"type": "text", "angle": 270, "font": "Liberation Serif", "fontSize": 10, "color": "black"},
         "encoding": {"x": {"field": "tx", "type": "quantitative", "axis": {"orient": "top", "labels": false, "title": null, "values": [0, 0.5, 1, 1.5, 2, 2.5, 3]}},
           "y": {"field": "ty", "type": "quantitative", "axis": {"orient": "right", "labels": false, "title": null, "values": [0, 0.02, 0.04, 0.06, 0.08, 0.1, 0.12, 0.14, 0.16, 0.18]}}, "text": {"field": "lab"}}}
      ]
    },
    {
      "title": "Pacoima Dam record.  k = 1",
      "width": 230, "height": 179,
      "resolve": {"axis": {"x": "independent", "y": "independent"}},
      "layer": [
        {"data": {"name": "spectra"}, "transform": [{"filter": "datum.rec == 'PD'"}],
         "mark": {"type": "line", "color": "black", "strokeWidth": 1},
         "encoding": {
           "x": {"field": "T", "type": "quantitative", "scale": {"domain": [0, 3], "nice": false}, "axis": {"values": [0, 0.5, 1, 1.5, 2, 2.5, 3], "format": ".1f", "title": "Period; T [s]"}},
           "y": {"field": "Sa", "type": "quantitative", "scale": {"domain": [0, 3], "nice": false}, "axis": {"values": [0, 0.5, 1, 1.5, 2, 2.5, 3], "format": ".1f", "title": "Spectral acceleration; Sa [g]"}},
           "strokeDash": {"field": "dir", "type": "nominal", "scale": {"domain": ["X", "Y", "Z"], "range": [[1, 0], [4, 2.5], [1, 0]]},
             "legend": {"title": null, "labelExpr": "datum.value == 'X' ? 'Longitudinal direction X' : datum.value == 'Y' ? 'Transverse direction Y' : 'Vertical direction Z'",
               "encode": {"symbols": {"update": {"shape": {"signal": "datum.value == 'X' ? 'M-1.25,0L1.25,0M-1.85,-0.6L-0.65,0.6M-1.85,0.6L-0.65,-0.6M0.65,-0.6L1.85,0.6M0.65,0.6L1.85,-0.6' : 'M-1.9,0L1.9,0'"}}}}}}
         }},
        {"data": {"name": "spectra"}, "transform": [{"filter": "datum.rec == 'PD' && datum.mk == 1"}],
         "mark": {"type": "point", "shape": "M-1,-1L1,1M-1,1L1,-1", "filled": false, "stroke": "black", "strokeWidth": 1, "size": 30, "opacity": 1},
         "encoding": {"x": {"field": "T", "type": "quantitative", "axis": null}, "y": {"field": "Sa", "type": "quantitative", "axis": null}}},
        {"data": {"name": "periods"},
         "mark": {"type": "rule", "color": "#d4343c", "strokeDash": [4, 2.5]},
         "encoding": {"x": {"field": "T", "type": "quantitative", "axis": null},
           "strokeWidth": {"field": "name", "type": "nominal", "scale": {"domain": ["T1st(X)", "T1st(Y)", "T2nd(Z)", "T1st(Z)"], "range": [1, 1, 1.7, 1]}, "legend": null}}},
        {"data": {"name": "labels"}, "transform": [{"filter": "datum.rec == 'PD'"}],
         "mark": {"type": "text", "angle": 270, "font": "Liberation Serif", "fontSize": 10, "color": "black"},
         "encoding": {"x": {"field": "tx", "type": "quantitative", "axis": {"orient": "top", "labels": false, "title": null, "values": [0, 0.5, 1, 1.5, 2, 2.5, 3]}},
           "y": {"field": "ty", "type": "quantitative", "axis": {"orient": "right", "labels": false, "title": null, "values": [0, 0.5, 1, 1.5, 2, 2.5, 3]}}, "text": {"field": "lab"}}}
      ]
    },
    {
      "title": "El Centro 1979 record.  k = 1",
      "width": 230, "height": 179,
      "resolve": {"axis": {"x": "independent", "y": "independent"}},
      "layer": [
        {"data": {"name": "spectra"}, "transform": [{"filter": "datum.rec == 'EC79'"}],
         "mark": {"type": "line", "color": "black", "strokeWidth": 1},
         "encoding": {
           "x": {"field": "T", "type": "quantitative", "scale": {"domain": [0, 3], "nice": false}, "axis": {"values": [0, 0.5, 1, 1.5, 2, 2.5, 3], "format": ".1f", "title": "Period; T [s]"}},
           "y": {"field": "Sa", "type": "quantitative", "scale": {"domain": [0, 1.8], "nice": false}, "axis": {"values": [0, 0.2, 0.4, 0.6, 0.8, 1.0, 1.2, 1.4, 1.6, 1.8], "format": ".1f", "title": "Spectral acceleration; Sa [g]"}},
           "strokeDash": {"field": "dir", "type": "nominal", "scale": {"domain": ["X", "Y", "Z"], "range": [[1, 0], [4, 2.5], [1, 0]]},
             "legend": {"title": null, "labelExpr": "datum.value == 'X' ? 'Longitudinal direction X' : datum.value == 'Y' ? 'Transverse direction Y' : 'Vertical direction Z'",
               "encode": {"symbols": {"update": {"shape": {"signal": "datum.value == 'X' ? 'M-1.25,0L1.25,0M-1.85,-0.6L-0.65,0.6M-1.85,0.6L-0.65,-0.6M0.65,-0.6L1.85,0.6M0.65,0.6L1.85,-0.6' : 'M-1.9,0L1.9,0'"}}}}}}
         }},
        {"data": {"name": "spectra"}, "transform": [{"filter": "datum.rec == 'EC79' && datum.mk == 1"}],
         "mark": {"type": "point", "shape": "M-1,-1L1,1M-1,1L1,-1", "filled": false, "stroke": "black", "strokeWidth": 1, "size": 30, "opacity": 1},
         "encoding": {"x": {"field": "T", "type": "quantitative", "axis": null}, "y": {"field": "Sa", "type": "quantitative", "axis": null}}},
        {"data": {"name": "periods"},
         "mark": {"type": "rule", "color": "#d4343c", "strokeDash": [4, 2.5]},
         "encoding": {"x": {"field": "T", "type": "quantitative", "axis": null},
           "strokeWidth": {"field": "name", "type": "nominal", "scale": {"domain": ["T1st(X)", "T1st(Y)", "T2nd(Z)", "T1st(Z)"], "range": [1, 1, 1.7, 1]}, "legend": null}}},
        {"data": {"name": "labels"}, "transform": [{"filter": "datum.rec == 'EC79'"}],
         "mark": {"type": "text", "angle": 270, "font": "Liberation Serif", "fontSize": 10, "color": "black"},
         "encoding": {"x": {"field": "tx", "type": "quantitative", "axis": {"orient": "top", "labels": false, "title": null, "values": [0, 0.5, 1, 1.5, 2, 2.5, 3]}},
           "y": {"field": "ty", "type": "quantitative", "axis": {"orient": "right", "labels": false, "title": null, "values": [0, 0.2, 0.4, 0.6, 0.8, 1.0, 1.2, 1.4, 1.6, 1.8]}}, "text": {"field": "lab"}}}
      ]
    },
    {
      "title": "Takatori record.  k = 1",
      "width": 230, "height": 179,
      "resolve": {"axis": {"x": "independent", "y": "independent"}},
      "layer": [
        {"data": {"name": "spectra"}, "transform": [{"filter": "datum.rec == 'TK'"}],
         "mark": {"type": "line", "color": "black", "strokeWidth": 1},
         "encoding": {
           "x": {"field": "T", "type": "quantitative", "scale": {"domain": [0, 3], "nice": false}, "axis": {"values": [0, 0.5, 1, 1.5, 2, 2.5, 3], "format": ".1f", "title": "Period; T [s]"}},
           "y": {"field": "Sa", "type": "quantitative", "scale": {"domain": [0, 2.5], "nice": false}, "axis": {"values": [0, 0.5, 1, 1.5, 2, 2.5], "format": ".1f", "title": "Spectral acceleration; Sa [g]"}},
           "strokeDash": {"field": "dir", "type": "nominal", "scale": {"domain": ["X", "Y", "Z"], "range": [[1, 0], [4, 2.5], [1, 0]]},
             "legend": {"title": null, "labelExpr": "datum.value == 'X' ? 'Longitudinal direction X' : datum.value == 'Y' ? 'Transverse direction Y' : 'Vertical direction Z'",
               "encode": {"symbols": {"update": {"shape": {"signal": "datum.value == 'X' ? 'M-1.25,0L1.25,0M-1.85,-0.6L-0.65,0.6M-1.85,0.6L-0.65,-0.6M0.65,-0.6L1.85,0.6M0.65,0.6L1.85,-0.6' : 'M-1.9,0L1.9,0'"}}}}}}
         }},
        {"data": {"name": "spectra"}, "transform": [{"filter": "datum.rec == 'TK' && datum.mk == 1"}],
         "mark": {"type": "point", "shape": "M-1,-1L1,1M-1,1L1,-1", "filled": false, "stroke": "black", "strokeWidth": 1, "size": 30, "opacity": 1},
         "encoding": {"x": {"field": "T", "type": "quantitative", "axis": null}, "y": {"field": "Sa", "type": "quantitative", "axis": null}}},
        {"data": {"name": "periods"},
         "mark": {"type": "rule", "color": "#d4343c", "strokeDash": [4, 2.5]},
         "encoding": {"x": {"field": "T", "type": "quantitative", "axis": null},
           "strokeWidth": {"field": "name", "type": "nominal", "scale": {"domain": ["T1st(X)", "T1st(Y)", "T2nd(Z)", "T1st(Z)"], "range": [1, 1, 1.7, 1]}, "legend": null}}},
        {"data": {"name": "labels"}, "transform": [{"filter": "datum.rec == 'TK'"}],
         "mark": {"type": "text", "angle": 270, "font": "Liberation Serif", "fontSize": 10, "color": "black"},
         "encoding": {"x": {"field": "tx", "type": "quantitative", "axis": {"orient": "top", "labels": false, "title": null, "values": [0, 0.5, 1, 1.5, 2, 2.5, 3]}},
           "y": {"field": "ty", "type": "quantitative", "axis": {"orient": "right", "labels": false, "title": null, "values": [0, 0.5, 1, 1.5, 2, 2.5]}}, "text": {"field": "lab"}}}
      ]
    }
  ]
}
